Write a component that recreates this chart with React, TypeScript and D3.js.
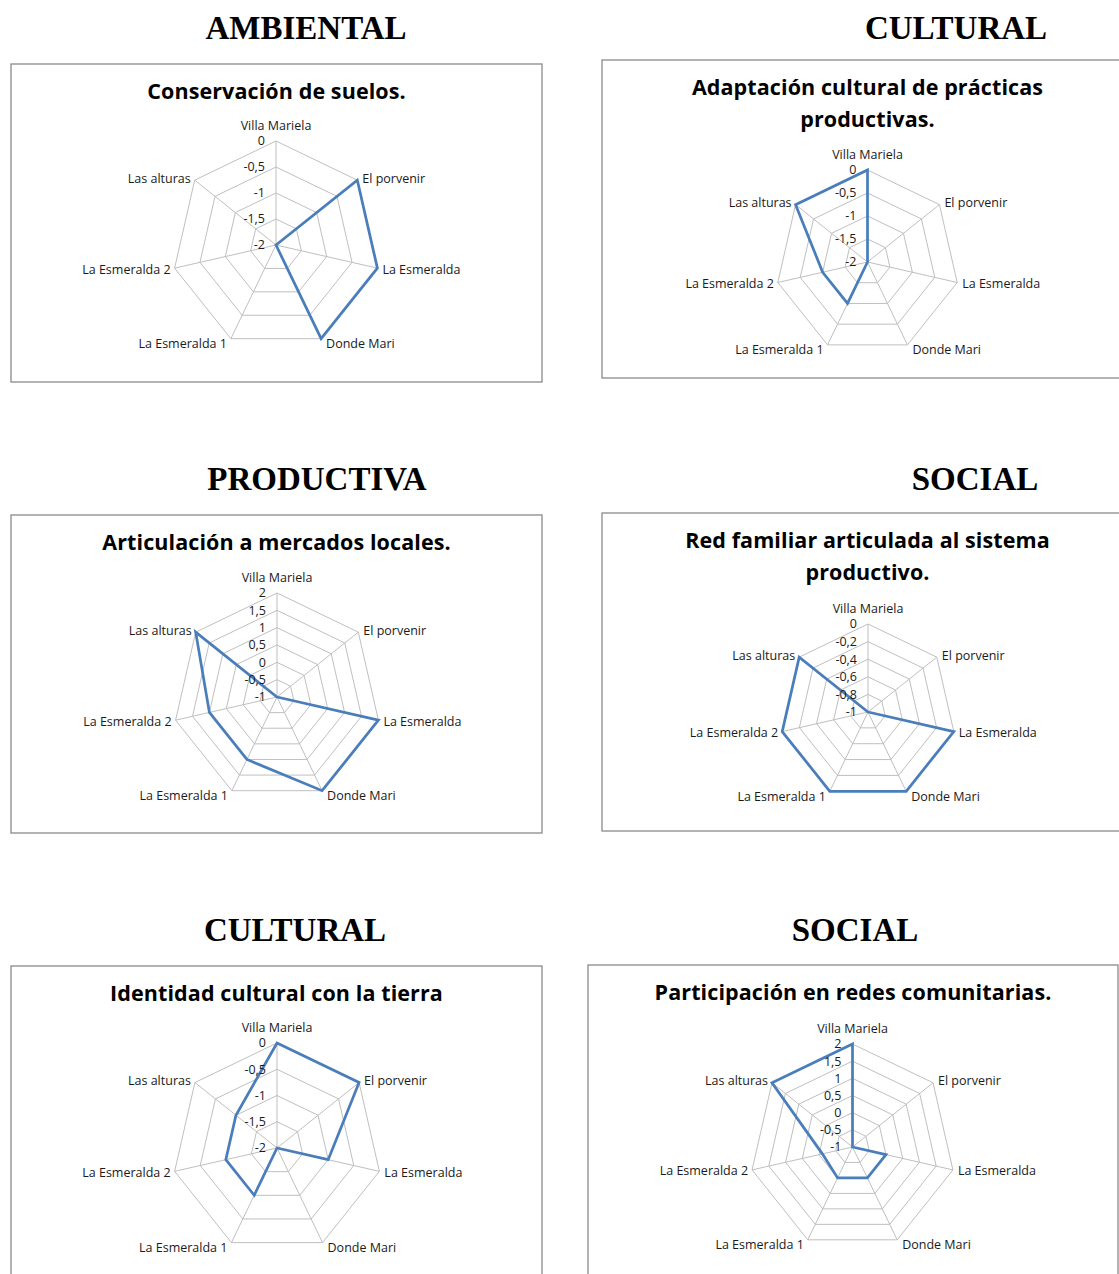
import React, { useRef, useEffect } from "react";
import * as d3 from "d3";

// Data
const categories = [
  "Villa Mariela",
  "El porvenir",
  "La Esmeralda",
  "Donde Mari",
  "La Esmeralda 1",
  "La Esmeralda 2",
  "Las alturas",
];

const conservacionSuelos = [-2, 0, 0, 0, -2, -2, -2];
const adaptacionCultural = [0, -2, -2, -2, -1, -1, 0];
const articulacionMercados = [-1, -1, 2, 2, 1, 1, 2];
const redFamiliar = [-1, -1, 0, 0, 0, 0, 0];
const identidadCultural = [0, 0, -1, -2, -1, -1, -1];
const participacionRedes = [2, -1, 0, 0, 0, -0.1, 2];

const ticksMinus2 = [-2, -1.5, -1, -0.5, 0];
const ticksMinus1To2 = [-1, -0.5, 0, 0.5, 1, 1.5, 2];
const ticksMinus1To0 = [-1, -0.8, -0.6, -0.4, -0.2, 0];

const sectionHeaders = ["AMBIENTAL", "CULTURAL", "PRODUCTIVA", "SOCIAL", "CULTURAL", "SOCIAL"];
const chartTitles = [
  ["Conservación de suelos."],
  ["Adaptación cultural de prácticas", "productivas."],
  ["Articulación a mercados locales."],
  ["Red familiar articulada al sistema", "productivo."],
  ["Identidad cultural con la tierra"],
  ["Participación en redes comunitarias."],
];

// layout for each panel (frame, header, radar center + radius)
const panels = [
  { values: conservacionSuelos, ticks: ticksMinus2, fx: 11, fy: 64, fw: 531, hx: 306, hy: 39, cx: 265, cy: 181, r: 104 },
  { values: adaptacionCultural, ticks: ticksMinus2, fx: 602, fy: 60, fw: 531, hx: 956, hy: 39, cx: 265.5, cy: 202, r: 92 },
  { values: articulacionMercados, ticks: ticksMinus1To2, fx: 11, fy: 515, fw: 531, hx: 317, hy: 490, cx: 266, cy: 182, r: 104 },
  { values: redFamiliar, ticks: ticksMinus1To0, fx: 602, fy: 513, fw: 531, hx: 975, hy: 490, cx: 266, cy: 199, r: 88 },
  { values: identidadCultural, ticks: ticksMinus2, fx: 11, fy: 966, fw: 531, hx: 295, hy: 941, cx: 266, cy: 182, r: 105 },
  { values: participacionRedes, ticks: ticksMinus1To2, fx: 588, fy: 965, fw: 530, hx: 855, hy: 941, cx: 264.5, cy: 182, r: 103 },
];

const labelFont = "'Open Sans', sans-serif";

const RadarSheet = () => {
  const svgRef = useRef<SVGSVGElement | null>(null);

  useEffect(() => {
    const width = 1119;
    const height = 1274;

    const svg = d3.select(svgRef.current).attr("width", width).attr("height", height);
    svg.selectAll("*").remove();

    const n = categories.length;
    const angle = d3
      .scaleLinear()
      .domain([0, n])
      .range([0, 2 * Math.PI]);

    panels.forEach((p, i) => {
      // section header
      svg
        .append("text")
        .attr("x", p.hx)
        .attr("y", p.hy)
        .attr("text-anchor", "middle")
        .style("font-family", "'Liberation Serif', 'Times New Roman', serif")
        .style("font-weight", "bold")
        .style("font-size", "33px")
        .text(sectionHeaders[i]);

      const g = svg.append("g").attr("transform", `translate(${p.fx}, ${p.fy})`);

      // frame
      g.append("rect")
        .attr("x", 0)
        .attr("y", 0)
        .attr("width", p.fw)
        .attr("height", 318)
        .attr("fill", "white")
        .attr("stroke", "#8a8a8a")
        .attr("stroke-width", 1.3);

      // title
      const titleLines = chartTitles[i];
      titleLines.forEach((line, k) => {
        g.append("text")
          .attr("x", p.fw / 2)
          .attr("y", 35 + k * 32)
          .attr("text-anchor", "middle")
          .style("font-family", labelFont)
          .style("font-weight", "bold")
          .style("font-size", "21.5px")
          .style("letter-spacing", "0.1px")
          .attr("fill", "#000")
          .text(line);
      });

      const chart = g.append("g").attr("transform", `translate(${p.cx}, ${p.cy})`);

      const rScale = d3
        .scaleLinear()
        .domain(d3.extent(p.ticks) as [number, number])
        .range([0, p.r]);

      const point = (idx: number, v: number): [number, number] => {
        const a = angle(idx);
        return [rScale(v) * Math.sin(a), -rScale(v) * Math.cos(a)];
      };

      // grid rings
      const ringLine = d3.line().curve(d3.curveLinearClosed);
      p.ticks.slice(1).forEach((t) => {
        chart
          .append("path")
          .attr("d", ringLine(categories.map((_, idx) => point(idx, t))))
          .attr("fill", "none")
          .attr("stroke", "#bfbfbf")
          .attr("stroke-width", 1);
      });

      // spokes
      const maxV = p.ticks[p.ticks.length - 1];
      categories.forEach((_, idx) => {
        const [x, y] = point(idx, maxV);
        chart
          .append("line")
          .attr("x1", 0)
          .attr("y1", 0)
          .attr("x2", x)
          .attr("y2", y)
          .attr("stroke", "#bfbfbf")
          .attr("stroke-width", 1);
      });

      // series
      chart
        .append("path")
        .attr("d", ringLine(p.values.map((v, idx) => point(idx, v))))
        .attr("fill", "none")
        .attr("stroke", "#4a7ebb")
        .attr("stroke-width", 2.75)
        .attr("stroke-linejoin", "miter");

      // tick labels
      p.ticks.forEach((t) => {
        chart
          .append("text")
          .attr("x", -11)
          .attr("y", -rScale(t))
          .attr("dy", "0.35em")
          .attr("text-anchor", "end")
          .style("font-family", labelFont)
          .style("font-size", "12.5px")
          .attr("fill", "#1a1a1a")
          .text(String(t).replace(".", ","));
      });

      // category labels
      categories.forEach((c, idx) => {
        const a = angle(idx);
        const [x, y] = point(idx, maxV);
        const s = Math.sin(a);
        const co = Math.cos(a);
        let anchor = "middle";
        let lx = x;
        let ly = y;
        if (idx === 0) {
          ly = y - 15;
        } else {
          anchor = s > 0 ? "start" : "end";
          lx = s > 0 ? x + 5 : x - 4;
          if (co > 0.3) ly = y - 2;
          else if (co < -0.5) ly = y + 5;
          else ly = y + 1;
        }
        chart
          .append("text")
          .attr("x", lx)
          .attr("y", ly)
          .attr("dy", "0.35em")
          .attr("text-anchor", anchor)
          .style("font-family", labelFont)
          .style("font-size", "12.5px")
          .attr("fill", "#1a1a1a")
          .text(c);
      });
    });
  }, []);

  return (
    <div style={{ position: "absolute", left: 0, top: 0 }}>
      <svg ref={svgRef} style={{ display: "block" }} />
    </div>
  );
};

const App = () => {
  return <RadarSheet />;
};

export default App;
